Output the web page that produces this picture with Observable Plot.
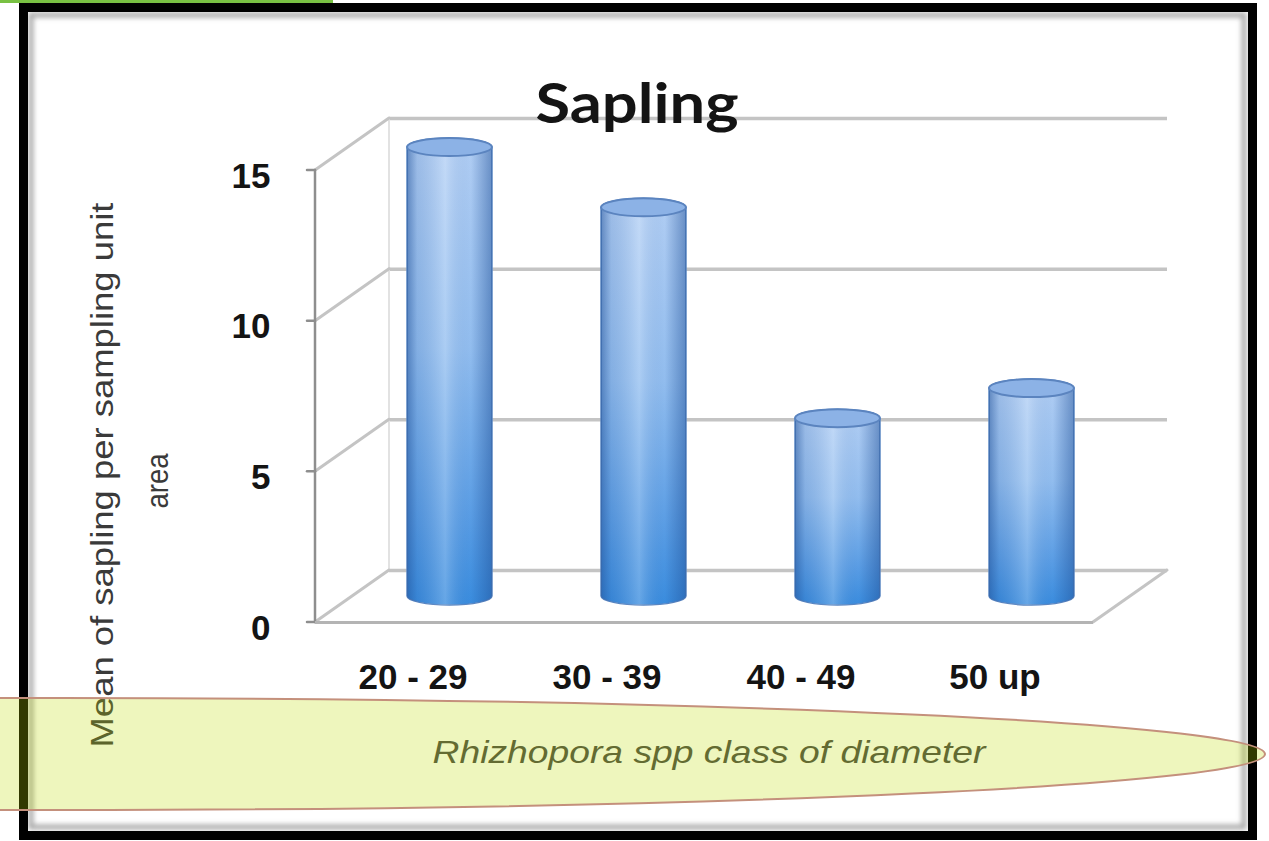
<!DOCTYPE html>
<html>
<head>
<meta charset="utf-8">
<script src="https://cdn.jsdelivr.net/npm/d3@7"></script>
<script src="https://cdn.jsdelivr.net/npm/@observablehq/plot@0.6"></script>
<style>
  html, body { margin: 0; padding: 0; background: #fff; }
  #chart { position: relative; width: 1269px; height: 841px; overflow: hidden; }
  #chart svg { overflow: visible; }
</style>
</head>
<body>
<div id="chart"></div>
<script>
// ---- data ----
const classes = ["20 - 29", "30 - 39", "40 - 49", "50 up"];
const means = [14.9, 12.9, 5.9, 6.9];
const yTicks = [0, 5, 10, 15];
const chartTitle = "Sapling";
const yLabelLines = ["Mean of sapling per sampling unit", "area"];
const xLabel = "Rhizhopora spp class of diameter";

const data = classes.map((cls, i) => ({cls, mean: means[i]}));

// 3D depth offsets (pixels)
const DX = 74, DY = -52;
const HX = DX / 2, HY = DY / 2;

function defsMark() {
  const defs = d3.create("svg:defs");
  const v = defs.append("linearGradient").attr("id", "cylV")
    .attr("x1", 0).attr("y1", 0).attr("x2", 0).attr("y2", 1);
  [[0, "#b4d0f5"], [0.45, "#94bff0"], [0.8, "#5c9fe6"], [1, "#3a8ddf"]]
    .forEach(([o, c]) => v.append("stop").attr("offset", o).attr("stop-color", c));
  const h = defs.append("linearGradient").attr("id", "cylH")
    .attr("x1", 0).attr("y1", 0).attr("x2", 1).attr("y2", 0);
  [[0, "#1f4f96", 0.55], [0.12, "#1f4f96", 0.15], [0.45, "#ffffff", 0.22],
   [0.75, "#1f4f96", 0.02], [1, "#1f4f96", 0.5]]
    .forEach(([o, c, a]) => h.append("stop").attr("offset", o).attr("stop-color", c).attr("stop-opacity", a));
  return defs.node();
}

function wallLines(index, scales, values, dims) {
  const y = scales.y;
  const L = dims.marginLeft, R = dims.width - dims.marginRight;
  const top = yTicks[yTicks.length - 1];
  const g = d3.create("svg:g").attr("fill", "none").attr("stroke-linecap", "round");
  // back wall left edge
  g.append("line").attr("x1", L + DX).attr("y1", y(0) + DY).attr("x2", L + DX).attr("y2", y(top) + DY)
    .attr("stroke", "#e2e2e2").attr("stroke-width", 2);
  // side wall diagonals at each tick
  for (const t of yTicks) {
    g.append("line").attr("x1", L).attr("y1", y(t)).attr("x2", L + DX).attr("y2", y(t) + DY)
      .attr("stroke", "#c4c4c4").attr("stroke-width", 3);
  }
  // floor right diagonal
  g.append("line").attr("x1", R).attr("y1", y(0)).attr("x2", R + DX).attr("y2", y(0) + DY)
    .attr("stroke", "#c4c4c4").attr("stroke-width", 3);
  // front axis line + tick marks
  g.append("line").attr("x1", L).attr("y1", y(0)).attr("x2", L).attr("y2", y(top))
    .attr("stroke", "#8e8e8e").attr("stroke-width", 2.5);
  for (const t of yTicks) {
    g.append("line").attr("x1", L - 8).attr("y1", y(t)).attr("x2", L).attr("y2", y(t))
      .attr("stroke", "#8e8e8e").attr("stroke-width", 2.5);
  }
  return g.node();
}

const plot = Plot.plot({
  width: 1269,
  height: 841,
  marginLeft: 315,
  marginRight: 176,
  marginTop: 170,
  marginBottom: 219,
  style: {background: "#fff", fontFamily: "'Liberation Sans', Arial, sans-serif", overflow: "visible"},
  x: {domain: classes, paddingInner: 0.56, paddingOuter: 0.28, axis: null, label: null},
  y: {domain: [0, 15], axis: null, label: null},
  marks: [
    defsMark,
    Plot.ruleY(yTicks, {dx: DX, dy: DY, stroke: "#c4c4c4", strokeWidth: 3.5}),
    wallLines,
    Plot.ruleY([0], {stroke: "#b4b4b4", strokeWidth: 3}),
    // cylinder bodies
    Plot.barY(data, {x: "cls", y: "mean", dx: HX, dy: HY, insetTop: -9, insetBottom: -9,
      rx: 43, ry: 9, fill: "url(#cylV)", stroke: "#5a86c2", strokeWidth: 1.5}),
    Plot.barY(data, {x: "cls", y: "mean", dx: HX, dy: HY, insetTop: -9, insetBottom: -9,
      rx: 43, ry: 9, fill: "url(#cylH)"}),
    // cylinder caps
    Plot.barY(data, {x: "cls", y1: "mean", y2: "mean", dx: HX, dy: HY, insetTop: -9, insetBottom: -9,
      rx: 43, ry: 9, fill: "#8cb2e6", stroke: "#5b84bf", strokeWidth: 2}),
    Plot.axisY({ticks: yTicks, label: null, tickSize: 0, tickPadding: 45, fontSize: 35, fontWeight: "bold",
      fill: "#141414", dy: 6}),
    Plot.axisX({label: null, tickSize: 0, tickPadding: 42, fontSize: 35, fontWeight: "bold", fill: "#141414"})
  ]
});

document.getElementById("chart").appendChild(plot);

// ---- overlay: titles, frame, highlight ----
const svg = d3.select(plot);
const ov = svg.append("g").attr("class", "overlay");

ov.append("text")
  .attr("x", 637).attr("y", 123).attr("text-anchor", "middle")
  .attr("font-family", "Lato, 'Open Sans', sans-serif").attr("font-weight", "bold")
  .attr("font-size", 56).attr("fill", "#141414")
  .attr("textLength", 203).attr("lengthAdjust", "spacingAndGlyphs")
  .text(chartTitle);

const yl = [[102, 475, 545], [157, 481, 55]];
yLabelLines.forEach((line, i) => {
  const [cx, cy, len] = yl[i];
  ov.append("text")
    .attr("transform", `translate(${cx},${cy}) rotate(-90)`)
    .attr("text-anchor", "middle").attr("dominant-baseline", "central")
    .attr("font-family", "'Liberation Sans Narrow', 'Liberation Sans', Arial, sans-serif")
    .attr("font-size", 31).attr("fill", "#3a3a3a")
    .attr("textLength", len).attr("lengthAdjust", "spacingAndGlyphs")
    .text(line);
});

ov.append("text")
  .attr("x", 709).attr("y", 752).attr("text-anchor", "middle").attr("dominant-baseline", "central")
  .attr("font-family", "'Liberation Sans Narrow', 'Liberation Sans', Arial, sans-serif")
  .attr("font-style", "italic").attr("font-size", 32).attr("fill", "#444")
  .attr("textLength", 553).attr("lengthAdjust", "spacingAndGlyphs")
  .text(xLabel);

// frame with inner shadow
const blur = svg.select("defs").append("filter").attr("id", "soft")
  .attr("x", "-5%").attr("y", "-5%").attr("width", "110%").attr("height", "110%");
blur.append("feGaussianBlur").attr("stdDeviation", 2.5);
ov.append("rect").attr("x", 31).attr("y", 15).attr("width", 1213).attr("height", 812)
  .attr("fill", "none").attr("stroke", "#a8a8a8").attr("stroke-width", 5).attr("filter", "url(#soft)");
ov.append("rect").attr("x", 23.5).attr("y", 7.5).attr("width", 1229).attr("height", 828)
  .attr("fill", "none").attr("stroke", "#000").attr("stroke-width", 9);

// green line at top
ov.append("rect").attr("x", 0).attr("y", 0).attr("width", 333).attr("height", 3).attr("fill", "#79c143");

// highlight ellipse
ov.append("ellipse").attr("cx", 60).attr("cy", 754).attr("rx", 1205).attr("ry", 56)
  .attr("fill", "rgb(188,220,0)").attr("fill-opacity", 0.26)
  .attr("stroke", "#c4907c").attr("stroke-width", 2);
</script>
</body>
</html>
